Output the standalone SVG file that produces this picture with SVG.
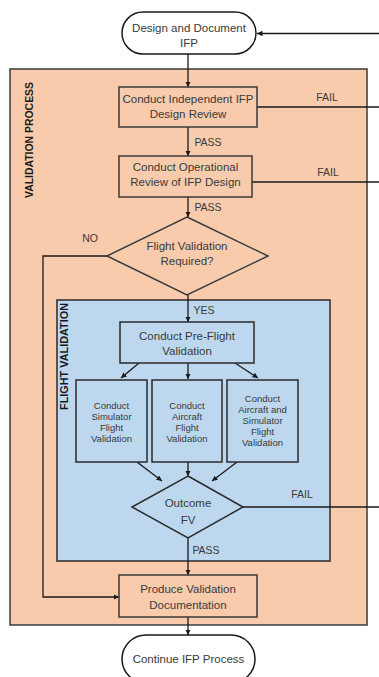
<svg xmlns="http://www.w3.org/2000/svg" width="379" height="677" viewBox="0 0 379 677">
  <style>
    .bg { fill: #ffffff; }
    .orange { fill: #f8cbad; stroke: #3a3a3a; stroke-width: 1.5; }
    .blue { fill: #bdd7ee; stroke: #2a2a2a; stroke-width: 1.5; }
    .term { fill: #ffffff; stroke: #1a1a1a; stroke-width: 1.5; }
    .line { fill: none; stroke: #1a1a1a; stroke-width: 1.3; }
    .arrow { marker-end: url(#head); }
    text { font-family: "Liberation Sans", Arial, sans-serif; fill: #3a3a3a; text-anchor: middle; }
    .t { font-size: 11.5px; }
    .s { font-size: 9.5px; }
    .lbl { font-size: 10.5px; }
    .title { font-size: 10px; font-weight: bold; fill: #1a1a1a; }
  </style>
  <defs>
    <marker id="head" viewBox="0 0 8 8" refX="8" refY="4" markerWidth="5.5" markerHeight="5.5" orient="auto" markerUnits="userSpaceOnUse">
      <path d="M0,0 L8,4 L0,8 Z" fill="#1a1a1a"/>
    </marker>
  </defs>

  <rect class="bg" x="0" y="0" width="379" height="677"/>

  <!-- containers -->
  <g id="validation-process">
    <rect class="orange" x="10" y="69" width="357" height="556"/>
    <text class="title" transform="translate(33,140) rotate(-90)" textLength="116" lengthAdjust="spacingAndGlyphs">VALIDATION PROCESS</text>
  </g>
  <g id="flight-validation">
    <rect class="blue" x="57" y="300" width="273" height="261"/>
    <text class="title" transform="translate(68,356.5) rotate(-90)" textLength="107" lengthAdjust="spacingAndGlyphs">FLIGHT VALIDATION</text>
  </g>

  <!-- connectors -->
  <g id="connectors">
    <path class="line arrow" d="M379,33.5 H257"/>
    <path class="line" d="M257,107 H379"/>
    <path class="line" d="M252,182 H379"/>
    <path class="line" d="M243,507 H379"/>
    <path class="line arrow" d="M188,54 V87"/>
    <path class="line arrow" d="M188,127 V156"/>
    <path class="line arrow" d="M188,197 V217"/>
    <path class="line arrow" d="M188,295 V322"/>
    <path class="line arrow" d="M139,363 L121,378"/>
    <path class="line arrow" d="M188,363 V379"/>
    <path class="line arrow" d="M235,363 L258,378"/>
    <path class="line arrow" d="M137,462 L162,481"/>
    <path class="line arrow" d="M188,462 V476"/>
    <path class="line arrow" d="M237,462 L212,481"/>
    <path class="line arrow" d="M188,538 V575"/>
    <path class="line arrow" d="M107,256 H43 V597 H119"/>
    <path class="line arrow" d="M188,617 V635"/>
    <text class="lbl" x="327" y="101">FAIL</text>
    <text class="lbl" x="328" y="176">FAIL</text>
    <text class="lbl" x="302" y="498">FAIL</text>
    <text class="lbl" x="208" y="146">PASS</text>
    <text class="lbl" x="208" y="211">PASS</text>
    <text class="lbl" x="206" y="554">PASS</text>
    <text class="lbl" x="90" y="242">NO</text>
    <text class="lbl" x="204" y="314">YES</text>
  </g>

  <!-- nodes -->
  <g id="design-document">
    <rect class="term" x="122" y="12" width="134" height="42" rx="21" ry="21"/>
    <text class="t" x="189" y="32">Design and Document</text>
    <text class="t" x="189" y="47">IFP</text>
  </g>
  <g id="independent-review">
    <rect class="orange" x="119" y="87" width="138" height="40"/>
    <text class="t" x="188" y="103">Conduct Independent IFP</text>
    <text class="t" x="188" y="118">Design Review</text>
  </g>
  <g id="operational-review">
    <rect class="orange" x="119" y="156" width="133" height="41"/>
    <text class="t" x="185.5" y="171">Conduct Operational</text>
    <text class="t" x="185.5" y="186">Review of IFP Design</text>
  </g>
  <g id="flight-validation-required">
    <polygon class="orange" points="187,217 268,256 187,295 107,256"/>
    <text class="t" x="187" y="250">Flight Validation</text>
    <text class="t" x="187" y="265">Required?</text>
  </g>
  <g id="pre-flight">
    <rect class="blue" x="120" y="322" width="134" height="41"/>
    <text class="t" x="187" y="340">Conduct Pre-Flight</text>
    <text class="t" x="187" y="355">Validation</text>
  </g>
  <g id="simulator-flight">
    <rect class="blue" x="76" y="380" width="71" height="82"/>
    <text class="s" x="111.5" y="408.5">Conduct</text>
    <text class="s" x="111.5" y="419.5">Simulator</text>
    <text class="s" x="111.5" y="430.5">Flight</text>
    <text class="s" x="111.5" y="441.5">Validation</text>
  </g>
  <g id="aircraft-flight">
    <rect class="blue" x="152" y="380" width="70" height="82"/>
    <text class="s" x="187" y="408.5">Conduct</text>
    <text class="s" x="187" y="419.5">Aircraft</text>
    <text class="s" x="187" y="430.5">Flight</text>
    <text class="s" x="187" y="441.5">Validation</text>
  </g>
  <g id="aircraft-simulator-flight">
    <rect class="blue" x="227" y="380" width="71" height="82"/>
    <text class="s" x="262.5" y="402">Conduct</text>
    <text class="s" x="262.5" y="413">Aircraft and</text>
    <text class="s" x="262.5" y="424">Simulator</text>
    <text class="s" x="262.5" y="435">Flight</text>
    <text class="s" x="262.5" y="446">Validation</text>
  </g>
  <g id="outcome-fv">
    <polygon class="blue" points="188,476 243,507 188,538 132,507"/>
    <text class="t" x="188" y="507">Outcome</text>
    <text class="t" x="188" y="524">FV</text>
  </g>
  <g id="produce-documentation">
    <rect class="orange" x="119" y="575" width="138" height="42"/>
    <text class="t" x="188" y="593">Produce Validation</text>
    <text class="t" x="188" y="609">Documentation</text>
  </g>
  <g id="continue-ifp">
    <rect class="term" x="122" y="635" width="133" height="48" rx="24" ry="24"/>
    <text class="t" x="188.5" y="663">Continue IFP Process</text>
  </g>
</svg>
